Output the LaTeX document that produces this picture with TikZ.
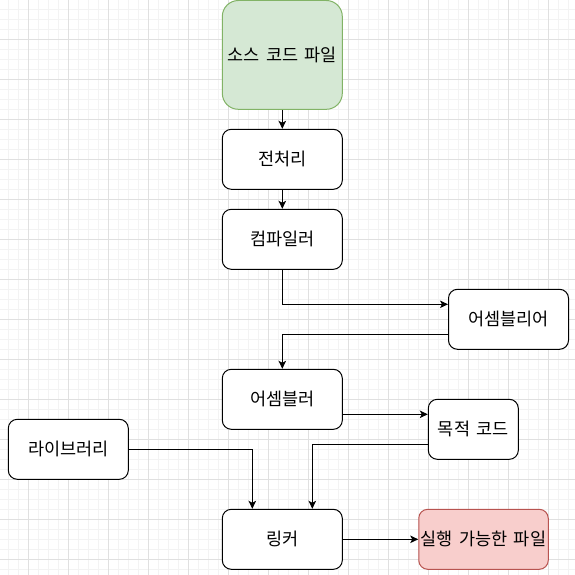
\documentclass[tikz,border=0pt]{standalone}
\usepackage{fontspec}
\setmainfont{Noto Sans CJK KR}[WordSpace=1.6]
\usetikzlibrary{arrows.meta}
\definecolor{gmaj}{HTML}{E0E0E0}
\definecolor{gmin}{HTML}{F3F3F3}
\definecolor{greenfill}{HTML}{D5E8D4}
\definecolor{greenline}{HTML}{82B366}
\definecolor{redfill}{HTML}{F8CECC}
\definecolor{redline}{HTML}{B85450}
\tikzset{
  box/.style={draw=black, line width=1pt, rounded corners=9pt, fill=white,
    minimum width=120pt, minimum height=60pt, inner sep=0pt,
    font=\fontsize{17.5}{20}\selectfont, text=black},
  arr/.style={draw=black, line width=1pt, -{Stealth[length=8pt,width=7.5pt,inset=2pt]}},
  minorline/.style={draw=gmin, line width=0.8pt},
  majorline/.style={draw=gmaj, line width=0.9pt}
}
\begin{document}
\begin{tikzpicture}[x=1pt,y=-1pt]
\useasboundingbox (0,0) rectangle (575,575);
\fill[white] (0,0) rectangle (575,575);
% grid
\foreach \i in {0,...,56} {
  \draw[minorline] ({8.3+10*\i},0) -- ({8.3+10*\i},575);
  \draw[minorline] (0,{9.3+10*\i}) -- (575,{9.3+10*\i});
}
\foreach \i in {0,...,13} {
  \draw[majorline] ({28.3+40*\i},0) -- ({28.3+40*\i},575);
  \draw[majorline] (0,{39.3+40*\i}) -- (575,{39.3+40*\i});
}
% nodes
\node[box, fill=greenfill, draw=greenline, minimum height=108.8pt, rounded corners=16pt] (src) at (282.3,54.9) {소스 코드 파일};
\node[box] (pre) at (282.3,159.3) {전처리};
\node[box] (comp) at (282.3,239.3) {컴파일러};
\node[box] (asml) at (508.5,319.3) {어셈블리어};
\node[box] (asm) at (282.3,399.3) {어셈블러};
\node[box, minimum width=90pt] (obj) at (473.3,429.3) {목적 코드};
\node[box] (lib) at (68.3,449.3) {라이브러리};
\node[box] (link) at (282.3,539.3) {링커};
\node[box, fill=redfill, draw=redline, minimum width=129.5pt] (exe) at (483.5,539.3) {실행 가능한 파일};
% connectors
\draw[arr] (src) -- (pre);
\draw[arr] (pre) -- (comp);
\draw[arr] (comp.south) |- ([yshift=15pt]asml.west);
\draw[arr] ([yshift=-15pt]asml.west) -| (asm.north);
\draw[arr] ([yshift=-15pt]asm.east) -- ([yshift=-15pt]asm.east -| obj.west);
\draw[arr] ([yshift=-15pt]obj.west) -| ([xshift=30pt]link.north);
\draw[arr] (lib.east) -| ([xshift=-30pt]link.north);
\draw[arr] (link.east) -- (exe.west);
\end{tikzpicture}
\end{document}
